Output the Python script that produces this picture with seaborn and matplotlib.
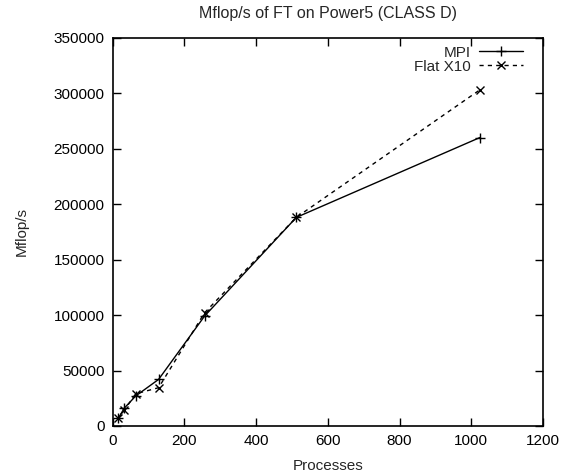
import matplotlib
matplotlib.use("Agg")
import matplotlib.pyplot as plt
import seaborn as sns
import pandas as pd
import numpy as np

processes = [16, 32, 64, 128, 256, 512, 1024]
mpi = [7000, 16000, 27000, 42000, 99000, 188000, 260000]
flat_x10 = [7000, 14000, 29000, 34500, 102000, 188000, 303000]
x_ticks = [0, 200, 400, 600, 800, 1000, 1200]
y_ticks = [0, 50000, 100000, 150000, 200000, 250000, 300000, 350000]

sns.set_style("ticks")
plt.rcParams["font.family"] = ["Liberation Sans", "DejaVu Sans"]

fig = plt.figure(figsize=(5.71, 4.74), dpi=100)
ax = fig.add_axes([0.1974, 0.1013, 0.951 - 0.1974, 0.9205 - 0.1013])

df_mpi = pd.DataFrame({"Processes": processes, "Mflop/s": mpi})
df_x10 = pd.DataFrame({"Processes": processes, "Mflop/s": flat_x10})

sns.lineplot(data=df_mpi, x="Processes", y="Mflop/s", ax=ax, color="black",
             linewidth=1.0, marker="+", markersize=7, markeredgewidth=1.0,
             markeredgecolor="black", label="MPI")
sns.lineplot(data=df_x10, x="Processes", y="Mflop/s", ax=ax, color="black",
             linewidth=1.0, marker="x", markersize=5.5, markeredgewidth=1.0,
             markeredgecolor="black", linestyle=(0, (3, 3)), label="Flat X10")

ax.set_xlim(0, 1200)
ax.set_ylim(0, 350000)
ax.set_xticks(x_ticks)
ax.set_yticks(y_ticks)
ax.ticklabel_format(style="plain", useOffset=False)
ax.tick_params(direction="in", top=True, right=True, length=6, width=1,
               labelsize=11, pad=6, colors="black")
for s in ax.spines.values():
    s.set_linewidth(1.2)
    s.set_color("black")

ax.set_xlabel("Processes", fontsize=11, labelpad=8)
ax.set_ylabel("Mflop/s", fontsize=11, labelpad=18)
ax.set_title("Mflop/s of FT on Power5 (CLASS D)", fontsize=11.5, pad=14)

leg = ax.legend(loc="upper right", bbox_to_anchor=(0.9675, 0.995),
                borderaxespad=0, frameon=False, markerfirst=False, numpoints=1,
                fontsize=11, handlelength=2.9, handletextpad=0.5,
                labelspacing=0.0)

fig.savefig("out.png", dpi=100)
